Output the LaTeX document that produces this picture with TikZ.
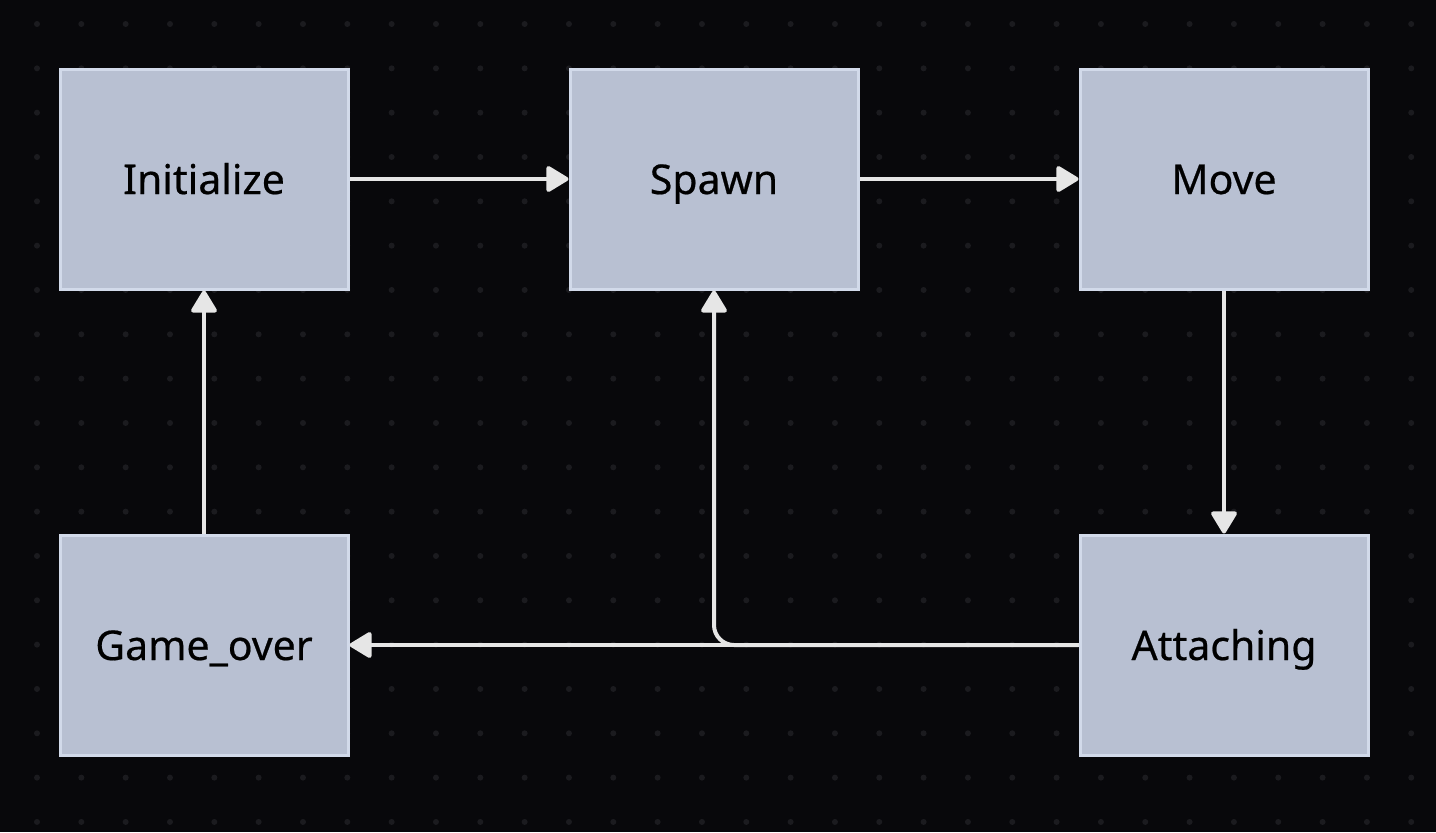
\documentclass[tikz,border=0pt]{standalone}
\usepackage{fontspec}
\setmainfont{Noto Sans}
\newfontfamily\fonteestado{Noto Sans}[FakeBold=0.5]
\usepackage{xcolor}
\usepackage{tikz}
\usetikzlibrary{arrows.meta,positioning}
\definecolor{fundo}{HTML}{08080B}
\definecolor{ponto}{HTML}{1B1B1F}
\definecolor{caixa}{HTML}{B8C0D2}
\definecolor{borda}{HTML}{D2DAEA}
\definecolor{seta}{HTML}{E6E6E6}
\tikzset{
    estado/.style={
        rectangle,
        draw=borda,
        fill=caixa,
        line width=1.5pt,
        minimum width=144pt,
        minimum height=110pt,
        text height=19pt,
        text depth=4pt,
        text=black,
        font=\fonteestado\fontsize{20.5}{24}\selectfont
    },
    fluxo/.style={-{Triangle[length=12pt,width=14pt,round]}, line width=2pt, draw=seta}
}

\begin{document}
\begin{tikzpicture}[x=0.5pt, y=-0.5pt, node distance=121.5pt and 109.5pt]
        % fundo e grade de pontos
        \fill[fundo] (0,0) rectangle (1436,832);
        \useasboundingbox (0,0) rectangle (1436,832);
        \foreach \i in {0,...,31}
            \foreach \j in {0,...,18}
                \fill[ponto] (37+44.33*\i, 24+44.33*\j) circle (3);

        \node[estado] (inicializar) at (204,179) {Initialize};
        \node[estado, right=of inicializar] (spawn) {Spawn};
        \node[estado, right=of spawn] (mover) {Move};
        \node[estado, below=of mover] (anexar) {Attaching};
        \node[estado, below=of inicializar] (fim) {Game\_over};

        \draw[fluxo] (inicializar) -- (spawn);
        \draw[fluxo] (spawn) -- (mover);
        \draw[fluxo] (mover) -- (anexar);
        \draw[fluxo] (anexar) -- (fim);
        \draw[fluxo, rounded corners=10pt] (anexar.west) -| (spawn.south);
        \draw[fluxo] (fim) -- (inicializar);
    \end{tikzpicture}
\end{document}
